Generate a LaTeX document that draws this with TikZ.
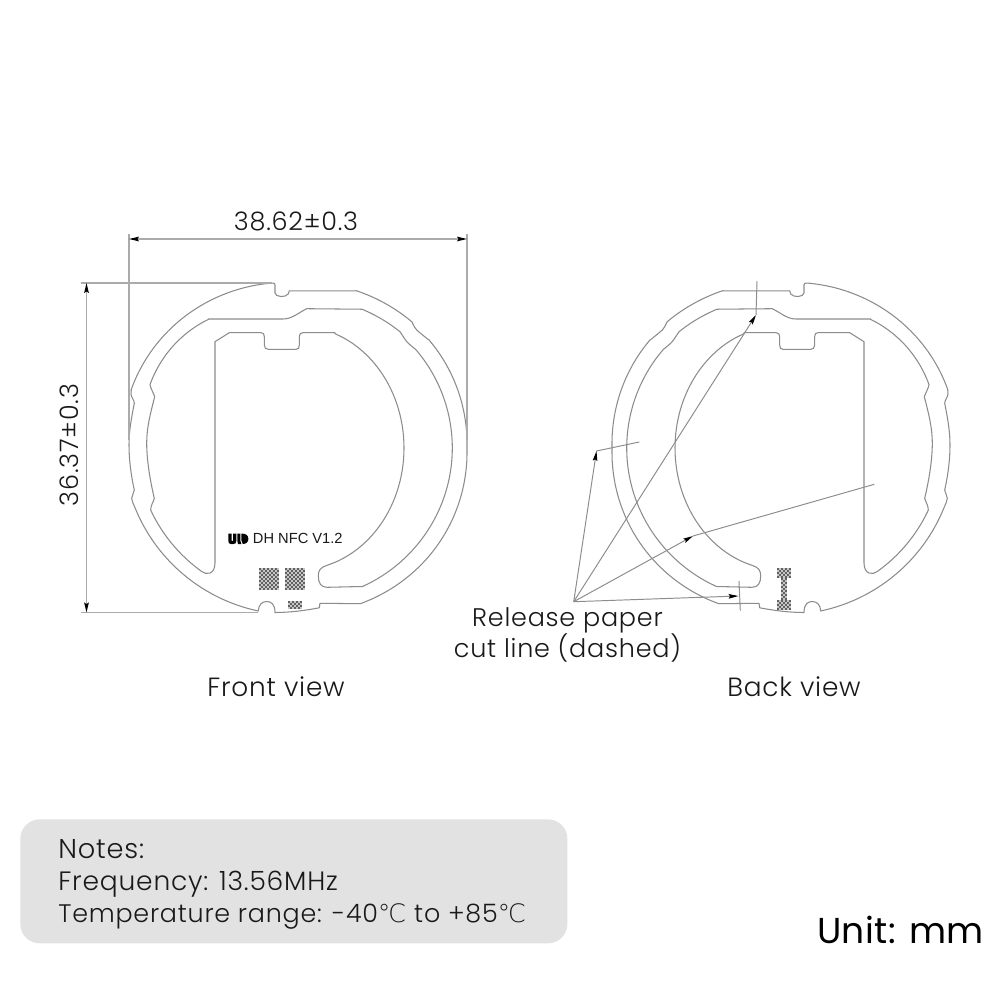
\documentclass[tikz,border=0pt]{standalone}
\usepackage{fontspec}
\setmainfont{Poppins}[UprightFont=* Light,LetterSpace=3]
\newfontfamily\regfont{Poppins}[LetterSpace=1]
\newfontfamily\degfont{DejaVu Sans}[UprightFont=* ExtraLight]
\newfontfamily\arialfont{Liberation Sans}
\usetikzlibrary{arrows.meta}
\definecolor{boardgray}{HTML}{8C8C8C}
\definecolor{dimgray}{HTML}{ABABAB}
\definecolor{boxgray}{HTML}{E2E2E2}
\tikzset{
  boardline/.style={draw=boardgray,line width=0.6pt,line join=round},
  dimline/.style={draw=dimgray,line width=0.8pt},
  leader/.style={draw=boardgray,line width=0.55pt},
  tiptri/.style={-{Stealth[color=black,length=5.6pt,width=2.6pt,inset=0.8pt]}},
  twotri/.style={{Stealth[color=black,length=5.6pt,width=2.6pt,inset=0.8pt]}-{Stealth[color=black,length=5.6pt,width=2.6pt,inset=0.8pt]}},
  label/.style={inner sep=0pt,anchor=base,font=\fontsize{14.5}{16}\selectfont,text=black!90},
  notelabel/.style={inner sep=0pt,anchor=base west,text=black!90},
}
\newcommand{\arcplot}[4]{-- plot[domain=#1,samples=28,smooth] ({298+#2*(#4)*cos(\x)},{448+#3*(#4)*sin(\x)})}
\newcommand{\boardshape}{%
  \draw[boardline]
    (131.3,390) \arcplot{-160.6:-99}{169}{167}{1+.047*sin(1.48*(-99-\x))}
    .. controls (274.5,282.8) and (275,283.5) .. (275,285) -- (275,293)
    .. controls (275.5,297) and (285,298) .. (288.3,294) -- (289.3,290.8)
    -- (356,290.8)
    \arcplot{-70:-48.3}{169}{167}{1.003+.0095*(\x+70)/21.7}
    .. controls (414,326) and (415,328.5) .. (416.7,330)
    .. controls (420,333) and (424,336) .. (428.5,339.8)
    \arcplot{-40:68.4}{169}{167}{1+.01*sin(2.4*abs(\x))}
    -- (320,603.3) -- (319.3,607.8)
    .. controls (305,610.5) and (290,612.5) .. (275,612.5)
    .. controls (275,604) and (271,601.5) .. (266.7,601.5)
    .. controls (262,601.5) and (258.5,605) .. (258.3,611)
    \arcplot{103.5:159.6}{169}{167}{1+.00045*(\x-95)}
    .. controls (133.5,504) and (131.7,501) .. (131.7,498.3)
    .. controls (131.7,495.5) and (134,493.5) .. (134.3,490)
    .. controls (131,475) and (129,460) .. (129,445)
    .. controls (129,432) and (131,420) .. (134.3,403.3)
    .. controls (134.3,400) and (131,397) .. (131,394) -- (131.3,390);
  \draw[boardline]
    (283,319) -- (208.3,319)
    \arcplot{-124.5:-156.6}{154.3}{152.5}{1.052-.000056*(\x+146)*(\x+146)}
    .. controls (150.5,388) and (153,392) .. (154.7,396.7)
    .. controls (150,415) and (146.7,428) .. (146.7,443)
    .. controls (146.7,460) and (150,480) .. (154.3,498.3)
    .. controls (153.5,502) and (150.7,505) .. (150.7,510)
    \arcplot{156.9:127.6}{154.3}{152.5}{1.022+.00053*(\x-127)}
    .. controls (206,575) and (214.8,575) .. (215,563)
    -- (215,341.7) -- (229.3,332.7) -- (261,332.7)
    .. controls (263.5,332.7) and (264.3,334) .. (264.3,336.7) -- (264.3,345)
    .. controls (264.3,348) and (266,349.3) .. (268.3,349.3) -- (296,349.3)
    .. controls (298.5,349.3) and (299.3,348) .. (299.3,345) -- (299.3,336.7)
    .. controls (299.3,334) and (300.5,332.7) .. (303,332.7) -- (335,332.7)
    \arcplot{-69.7:74.3}{106}{122}{1}
    .. controls (320,567.5) and (318.3,571) .. (318.3,576)
    .. controls (318.3,583) and (321,587.3) .. (327,587.3)
    -- (361.7,586.5)
    \arcplot{65.5:-40}{154.3}{152.5}{1}
    .. controls (413,347) and (410.5,345.5) .. (408.3,343.3)
    .. controls (405,340) and (403,336) .. (400,331.7)
    \arcplot{-49:-65.5}{154.3}{152.5}{1+.009*(\x+65.5)/16.5}
    -- (306.7,308.7) .. controls (298,313) and (292,319) .. (283,319);
}
\newcommand{\checker}[4]{%
  \foreach \i in {1,...,#3}{
    \foreach \j in {1,...,#4}{
      \pgfmathparse{int(mod(\i+\j,2))}
      \ifnum\pgfmathresult=0
        \fill[black!62] ({#1+(\i-1)*2},{#2+(\j-1)*2}) rectangle ++(2,2);
      \else
        \fill[black!22] ({#1+(\i-1)*2},{#2+(\j-1)*2}) rectangle ++(2,2);
      \fi
    }
  }
}
\begin{document}
\begin{tikzpicture}[x=0.02cm,y=-0.02cm]
\useasboundingbox (0,0) rectangle (1000,1000);
\fill[white] (0,0) rectangle (1000,1000);

% views
\boardshape
\begin{scope}[shift={(1079,0)},xscale=-1]
  \boardshape
\end{scope}

% front pads
\checker{259}{568}{10}{11}
\checker{285}{568}{10}{11}
\checker{288}{601}{7}{4}
% back I-shaped pad
\checker{777}{568}{7}{5}
\checker{781}{578}{3}{11}
\checker{777}{600}{7}{5}

% logo
\fill[black] (228.4,533.5) -- (231.6,533.5) -- (231.6,540.8) -- (233.2,540.8) -- (233.2,533.5) -- (236.4,533.5) -- (236.4,541)
  .. controls (236.4,543.5) and (235,544) .. (233,544) -- (231,544) .. controls (229,544) and (228.4,543) .. (228.4,541) -- cycle;
\fill[black] (237.4,533.5) -- (240.4,533.5) -- (240.4,541) -- (241.4,544) -- (237.9,544) -- (237.4,541) -- cycle;
\fill[black] (241.4,533.5) .. controls (246,533.5) and (248.4,535.5) .. (248.4,538.8)
  .. controls (248.4,542) and (246,544) .. (242.8,544) -- (241.4,540.5) -- cycle;
\node[anchor=base west,inner sep=0pt,font=\arialfont\fontsize{8.35}{9}\selectfont,text=black!90] (ver) at (252.6,543) {DH NFC V1.2};

% dimensions
\coordinate (dL) at (129,239);
\coordinate (dR) at (467,239);
\draw[dimline] (129,234) -- (129,440);
\draw[dimline] (467,234) -- (467,440);
\draw[dimline,twotri] (dL) -- (dR);
\node[label] (w) at (296,231) {38.62±0.3};
\coordinate (dT) at (86.5,283);
\coordinate (dB) at (86.5,612.5);
\draw[dimline] (81,283) -- (272,283);
\draw[dimline] (81,612.5) -- (258,612.5);
\draw[dimline,twotri] (dT) -- (dB);
\node[label,rotate=90] (h) at (78.5,445) {36.37±0.3};

% leaders
\coordinate (apex) at (573.7,601.7);
\coordinate (a1) at (756,315);
\coordinate (a1t) at (757,281);
\coordinate (a2) at (596.5,451);
\coordinate (a2e) at (639.3,442);
\coordinate (a3) at (693,536);
\coordinate (a3e) at (874.3,484.3);
\coordinate (a4) at (738.5,596);
\coordinate (a4t) at (739,581);
\coordinate (a4b) at (740.3,610.7);
\draw[leader,tiptri] (apex) -- (a1);
\draw[leader] (a1) -- (a1t);
\draw[leader,tiptri] (apex) -- (a2);
\draw[leader] (a2) -- (a2e);
\draw[leader,tiptri] (apex) -- (a3);
\draw[leader] (a3) -- (a3e);
\draw[leader,tiptri] (apex) -- (a4);
\draw[leader] (a4t) -- (a4b);

\node[label] (rel) at (567.5,626.5) {Release paper};
\node[label] (cut) at (567.5,657.5) {cut line (dashed)};
\node[label,font=\fontsize{15}{16}\selectfont] (fv) at (276,696) {Front view};
\node[label,font=\fontsize{15}{16}\selectfont] (bv) at (794,696) {Back view};

% notes
\node[draw=none,fill=boxgray,rounded corners=11pt,minimum width=547*0.02cm,minimum height=124*0.02cm,inner sep=0pt,anchor=north west] (box) at (20,819) {};
\node[notelabel,font=\fontsize{15.5}{16}\selectfont] (n1) at (58,858) {Notes:};
\node[notelabel,font=\fontsize{15.1}{16}\selectfont] (n2) at (58,890) {Frequency: 13.56MHz};
\node[notelabel,font=\fontsize{14.45}{16}\selectfont] (n3) at (58,922) {Temperature range: -40{\degfont ℃} to +85{\degfont ℃}};
\node[anchor=base west,inner sep=0pt,font=\regfont\fontsize{20.5}{24}\selectfont] (unit) at (817,943) {Unit: mm};
\end{tikzpicture}
\end{document}
